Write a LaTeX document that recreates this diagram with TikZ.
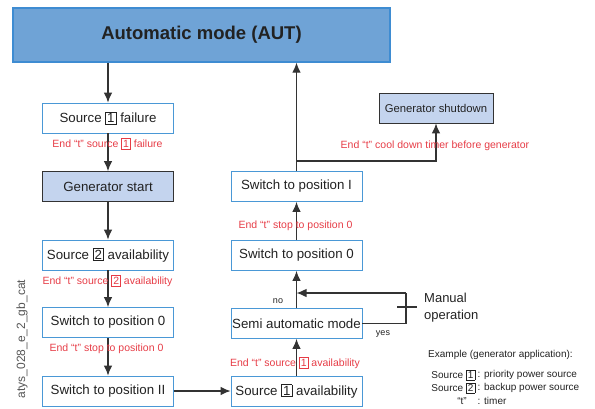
\documentclass[tikz,border=0pt]{standalone}
\usepackage{fontspec}
\setmainfont{Liberation Sans}
\usetikzlibrary{arrows.meta}

\definecolor{topfill}{HTML}{6FA3D6}
\definecolor{topedge}{HTML}{3E8CD2}
\definecolor{genfill}{HTML}{C4D4EE}
\definecolor{boxedge}{HTML}{4A98D6}
\definecolor{linecol}{HTML}{333333}
\definecolor{labred}{HTML}{E63C46}
\definecolor{txt}{HTML}{222222}
\definecolor{codegray}{HTML}{555555}

% framed source number
\newcommand{\nbx}[1]{{\setlength{\fboxsep}{1.1pt}\setlength{\fboxrule}{0.8pt}\fbox{#1}}}

\begin{document}
\begin{tikzpicture}[x=1pt,y=-1pt,
  stepbox/.style={draw=boxedge, line width=0.9pt, fill=white,
    minimum width=131pt, minimum height=30pt, inner sep=0pt,
    text=txt, font=\fontsize{13.3}{15}\selectfont},
  genbox/.style={stepbox, draw=linecol, fill=genfill},
  flow/.style={draw=linecol, line width=1.1pt, -{Latex[length=10pt,width=8.5pt]}},
  wire/.style={draw=linecol, line width=1.1pt},
  redlab/.style={text=labred, font=\fontsize{10.5}{12}\selectfont, inner sep=0.5pt},
  small/.style={text=txt, font=\fontsize{9}{11}\selectfont, inner sep=0pt},
  legend/.style={text=txt, font=\fontsize{10}{12}\selectfont, inner sep=0pt},
]
\useasboundingbox (0,0) rectangle (595,408);

% main mode
\node[draw=topedge, fill=topfill, line width=1.2pt, minimum width=377pt,
      minimum height=54pt, inner sep=0pt, text=txt,
      font=\fontsize{18.5}{20}\selectfont\bfseries] (aut) at (201.5,35) {Automatic mode (AUT)};

% left column
\node[stepbox] (s1fail) at (108,118)   {Source \nbx{1} failure};
\node[genbox]  (genst)  at (108,186.5) {Generator start};
\node[stepbox] (s2av)   at (108,255)   {Source \nbx{2} availability};
\node[stepbox] (swzl)   at (108,322.5) {Switch to position 0};
\node[stepbox] (swtwo)  at (108,391)   {Switch to position II};

% right column
\node[stepbox] (swone)  at (296.5,186.5) {Switch to position I};
\node[stepbox] (swzr)   at (296.5,255.5) {Switch to position 0};
\node[stepbox] (semi)   at (296.5,323.5) {Semi automatic mode};
\node[stepbox] (s1av)   at (296.5,391)   {Source \nbx{1} availability};
\node[genbox, minimum width=114pt, font=\fontsize{11.3}{13}\selectfont] (genoff) at (436,108) {Generator shutdown};

% left column connectors
\draw[flow] (aut.south -| s1fail.north) -- (s1fail.north);
\draw[flow] (s1fail.south) -- (genst.north);
\draw[flow] (genst.south) -- (s2av.north);
\draw[flow] (s2av.south) -- (swzl.north);
\draw[flow] (swzl.south) -- (swtwo.north);
\draw[flow] (swtwo.east) -- (s1av.west);

% right column connectors
\draw[flow] (s1av.north) -- (semi.south);
\draw[flow] (semi.north) -- (swzr.south);
\draw[flow] (swzr.north) -- (swone.south);
\draw[flow] (swone.north) -- (aut.south -| swone.north);
\coordinate (br) at (296.5,161);
\draw[flow] (br) -| (genoff.south);

% manual operation loop
\coordinate (mr) at (406,323.5);
\coordinate (mt) at (406,293);
\draw[wire] (semi.east) -- (mr) -- (mt);
\draw[flow] (mt) -- (semi.north |- mt);
\coordinate (tka) at (397,307);
\coordinate (tkb) at (417,307);
\draw[wire] (tka) -- (tkb);
\node[anchor=west, align=left, text=txt, inner sep=0pt,
      font=\fontsize{13}{17}\selectfont] (manual) at (424,307.5) {Manual\\operation};
\node[small] (no)  at (278,301) {no};
\node[small] (yes) at (383,334) {yes};

% timer labels
\node[redlab] (l1) at (107.5,144) {End “t” source \nbx{1} failure};
\node[redlab] (l2) at (107.5,281) {End “t” source \nbx{2} availability};
\node[redlab] (l3) at (106.5,349) {End “t” stop to position 0};
\node[redlab] (l4) at (295.5,226) {End “t” stop to position 0};
\node[redlab] (l5) at (295,363)   {End “t” source \nbx{1} availability};
\node[redlab] (l6) at (435,146)   {End “t” cool down timer before generator};

% legend
\node[legend, anchor=west] (lg0) at (428,355) {Example (generator application):};
\node[legend, anchor=east] (lg1a) at (475.5,375) {Source \nbx{1}};
\node[legend, anchor=west] (lg1b) at (477.5,375) {: priority power source};
\node[legend, anchor=east] (lg2a) at (475.5,388) {Source \nbx{2}};
\node[legend, anchor=west] (lg2b) at (477.5,388) {: backup power source};
\node[legend, anchor=east] (lg3a) at (467,401) {“t”};
\node[legend, anchor=west] (lg3b) at (477.5,401) {: timer};

% drawing reference
\node[rotate=90, text=codegray, font=\fontsize{12}{14}\selectfont, inner sep=0pt] (ref) at (22,339) {atys\_028\_e\_2\_gb\_cat};
\end{tikzpicture}
\end{document}
